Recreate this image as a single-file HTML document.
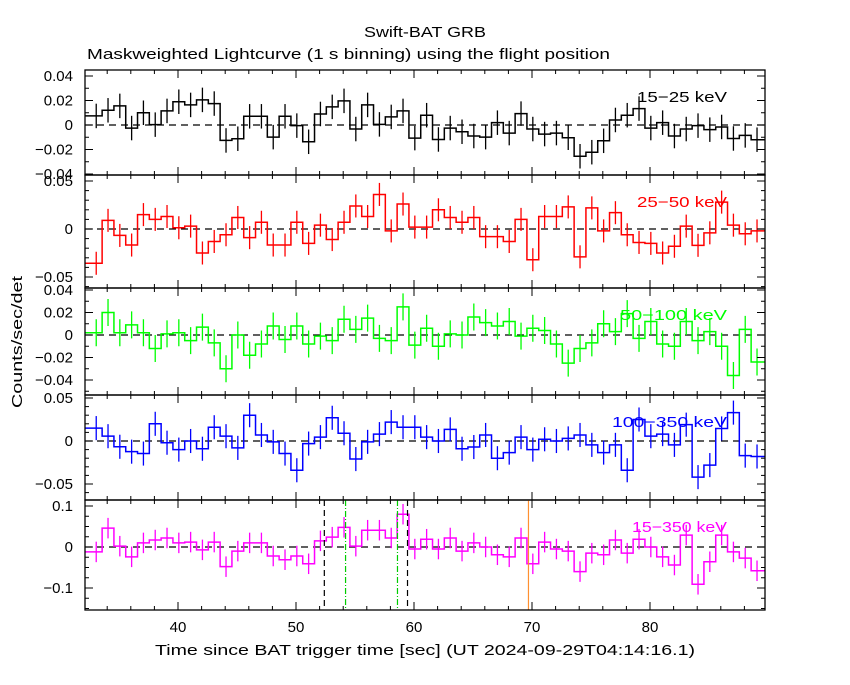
<!DOCTYPE html>
<html><head><meta charset="utf-8"><style>
html,body{margin:0;padding:0;background:#fff;}
svg text{font-family:"Liberation Sans",sans-serif;}
</style></head><body>
<svg id="chart" width="850" height="680" viewBox="0 0 850 680" xmlns="http://www.w3.org/2000/svg">
<rect width="850" height="680" fill="#fff"/>
<text x="364" y="37" font-size="15" textLength="122" lengthAdjust="spacingAndGlyphs">Swift-BAT GRB</text>
<text x="87" y="59" font-size="15" textLength="523" lengthAdjust="spacingAndGlyphs">Maskweighted Lightcurve (1 s binning) using the flight position</text>
<text x="0" y="0" transform="translate(22,342) rotate(-90)" text-anchor="middle" font-size="15" textLength="132" lengthAdjust="spacingAndGlyphs">Counts/sec/det</text>
<text x="155" y="655" font-size="15" textLength="540" lengthAdjust="spacingAndGlyphs">Time since BAT trigger time [sec] (UT 2024-09-29T04:14:16.1)</text>
<g id="plots"></g>
</svg>
<script>
const binStart = 33.07;
const xTicks = [40, 50, 60, 70, 80];
const p1Vals = [0.0074,0.012,0.0156,-0.0025,0.010,0.0003,0.0115,0.019,0.0164,0.0205,0.0175,-0.0126,-0.0112,0.0071,0.0071,-0.0099,0.0071,-0.0005,-0.0137,0.009,0.0148,0.0197,-0.0033,0.0164,0.0005,0.0066,0.0115,-0.0107,0.008,-0.0118,-0.0025,-0.0055,-0.009,-0.0099,0.0019,-0.0066,0.0093,-0.0033,-0.0074,-0.0066,-0.0104,-0.0255,-0.0222,-0.0129,0.0041,0.008,0.0134,-0.0025,0.0019,-0.009,-0.0033,-0.0005,-0.0038,-0.0016,-0.011,-0.0085,-0.012];
const p2Vals = [-0.0357,0.009,-0.0067,-0.0167,0.015,0.010,0.013,0.0013,0.003,-0.025,-0.013,-0.006,0.012,-0.009,0.007,-0.0167,-0.0167,0.007,-0.015,0.004,-0.011,0.007,0.024,0.013,0.036,-0.002,0.026,0.002,0.002,0.020,0.012,0.007,0.012,-0.008,-0.008,-0.013,0.010,-0.032,0.013,0.013,0.023,-0.029,0.022,-0.002,0.017,-0.006,-0.014,-0.015,-0.025,-0.018,0.003,-0.017,-0.004,0.028,0.004,-0.005,-0.002];
const p3Vals = [0.002,0.020,0.002,0.009,0.002,-0.012,0.001,0.002,-0.005,0.007,-0.007,-0.030,0,-0.018,-0.008,0.008,-0.004,0.008,-0.008,-0.001,-0.005,0.014,0.005,0.015,-0.003,-0.005,0.025,-0.009,0.006,-0.010,0.001,0,0.016,0.011,0.008,0.012,-0.001,0.006,0.004,-0.008,-0.025,-0.012,-0.007,0.010,0.003,0.019,-0.003,0.012,-0.008,-0.010,0.012,-0.005,0.003,-0.010,-0.036,0.005,-0.024];
const p4Vals = [0.015,0.0056,-0.0067,-0.0124,-0.0146,0.020,-0.002,-0.010,0,-0.009,0.016,0.0056,-0.008,0.030,0.007,-0.001,-0.0146,-0.034,-0.003,0.0045,0.027,0.009,-0.021,-0.001,0.008,0.022,0.016,0.016,0.0045,0,0.0135,-0.009,-0.007,0.007,-0.020,-0.0135,0.0045,-0.010,0.002,0,0.003,0.007,-0.0045,-0.0135,-0.0045,-0.034,0.025,0.0056,0.008,-0.0045,0.019,-0.042,-0.028,0.0146,0.033,-0.017,-0.018];
const p5Vals = [-0.012,0.046,0.002,-0.024,0.010,0.017,0.022,0.010,0.012,-0.007,0.012,-0.048,-0.010,0.010,0.010,-0.022,-0.031,-0.022,-0.041,0.015,0.024,0.048,0.002,0.041,0.041,0.022,0.080,-0.005,0.019,-0.005,0.022,-0.010,0.010,0,-0.019,-0.024,0.022,-0.041,0.012,-0.005,-0.010,-0.060,-0.015,-0.019,0.017,-0.015,0.019,0,-0.024,-0.044,0.029,-0.091,-0.036,0.029,-0.012,-0.027,-0.058];
const panelLabels = ["15\u221225 keV","25\u221250 keV","50\u2212100 keV","100\u2212350 keV","15\u2212350 keV"];
const panelErrs = [0.010, 0.012, 0.012, 0.014, 0.025];
const yTickLabelSets = [[0.04,0.02,0,-0.02,-0.04],[0.05,0,-0.05],[0.04,0.02,0,-0.02,-0.04],[0.05,0,-0.05],[0.1,0,-0.1]];
const blackDashTimes = [52.4, 59.45];
const greenDashTimes = [54.2, 58.6];
const orangeTimes = [69.7];

const NS="http://www.w3.org/2000/svg";
const X0=85, X1=765;
const xScale = t => 178 + (t-40)*11.8;
const tMin = 40 + (X0-178)/11.8, tMax = 40 + (X1-178)/11.8;
const panels = [
 {top:70,bot:175,zero:125,k:1225,vals:p1Vals,color:"#000",minor:0.01},
 {top:175,bot:288,zero:229,k:960,vals:p2Vals,color:"#ff0000",minor:0.01},
 {top:288,bot:395,zero:335,k:1125,vals:p3Vals,color:"#00ff00",minor:0.01},
 {top:395,bot:500,zero:441,k:860,vals:p4Vals,color:"#0000ff",minor:0.01},
 {top:500,bot:610,zero:547,k:410,vals:p5Vals,color:"#ff00ff",minor:0.025}
];
const labelWidths=[90,90,107,115,95];
const root=document.getElementById('plots');
function mk(tag,attrs,parent){const e=document.createElementNS(NS,tag);for(const a in attrs)e.setAttribute(a,attrs[a]);(parent||root).appendChild(e);return e;}
function fmt(v){if(v===0)return "0";let s=String(Math.abs(v));return (v<0?"\u2212":"")+s;}

panels.forEach((p,i)=>{
  const g=mk('g',{});
  
  
  const ys=v=>p.zero - v*p.k;
  const cid='clip'+i;
  const cp=mk('clipPath',{id:cid},g);
  mk('rect',{x:X0,y:p.top,width:X1-X0,height:p.bot-p.top},cp);
  const cg=mk('g',{'clip-path':'url(#'+cid+')'},g);
  const zl=mk('line',{x1:X0,x2:X1,y1:p.zero,y2:p.zero,stroke:"#000","stroke-dasharray":"7,5","stroke-width":1.3},cg);
  
  
  let d="";
  p.vals.forEach((v,j)=>{
    const t=binStart+j;
    const xa=xScale(t-0.5), xb=xScale(t+0.5), y=ys(v);
    d+=(j===0?"M"+(X0-5)+","+y:"L"+xa+","+y)+" L"+xb+","+y+" ";
  });
  const last=p.vals[p.vals.length-1];
  d+="L"+(X1+5)+","+ys(last);
  const st=mk('path',{d:d,fill:"none",stroke:p.color,"stroke-width":1.5},cg);
  
  
  p.vals.forEach((v,j)=>{
    const x=xScale(binStart+j);
    const e=mk('line',{x1:x,x2:x,y1:ys(v+panelErrs[i]),y2:ys(v-panelErrs[i]),stroke:p.color,"stroke-width":1.3},cg);
    
    
  });
  if(i===4){
    blackDashTimes.forEach(t=>{const l=mk('line',{x1:xScale(t),x2:xScale(t),y1:p.top,y2:p.bot,stroke:"#000","stroke-dasharray":"6,4","stroke-width":1.2},cg);
      
      });
    greenDashTimes.forEach(t=>{const l=mk('line',{x1:xScale(t),x2:xScale(t),y1:p.top,y2:p.bot,stroke:"#00cc00","stroke-dasharray":"6,2,1,2","stroke-width":1.2},cg);
      
      });
    orangeTimes.forEach(t=>{const l=mk('line',{x1:xScale(t),x2:xScale(t),y1:p.top,y2:p.bot,stroke:"#ff9030","stroke-width":1.2},cg);
      
      });
  }
  const fr=mk('rect',{x:X0,y:p.top,width:X1-X0,height:p.bot-p.top,fill:"none",stroke:"#000","stroke-width":1.3},g);
  
  
  for(let t=Math.ceil(tMin/2)*2;t<=tMax;t+=2){
    const x=xScale(t), L=(t%10===0)?8:4;
    mk('line',{x1:x,x2:x,y1:p.bot,y2:p.bot-L,stroke:"#000"},g);
    mk('line',{x1:x,x2:x,y1:p.top,y2:p.top+L,stroke:"#000"},g);
  }
  const vmin=(p.zero-p.bot)/p.k, vmax=(p.zero-p.top)/p.k;
  for(let n=Math.ceil(vmin/p.minor);n*p.minor<=vmax;n++){
    const v=n*p.minor,y=ys(v);
    const major=yTickLabelSets[i].some(q=>Math.abs(q-v)<1e-9);
    const L=major?8:4;
    mk('line',{x1:X0,x2:X0+L,y1:y,y2:y,stroke:"#000"},g);
    mk('line',{x1:X1,x2:X1-L,y1:y,y2:y,stroke:"#000"},g);
  }
  yTickLabelSets[i].forEach(v=>{
    const t=mk('text',{x:X0-12,y:ys(v)+5,"text-anchor":"end","font-size":15},g);
    
    
    t.textContent=fmt(v);
  });
  const lb=mk('text',{x:727-labelWidths[i],y:p.top+32,"font-size":15,fill:p.color,textLength:labelWidths[i],lengthAdjust:"spacingAndGlyphs"},g);
  
  
  lb.textContent=panelLabels[i];
});
xTicks.forEach(t=>{
  const tx=mk('text',{x:xScale(t),y:632,"text-anchor":"middle","font-size":15});
  
  
  tx.textContent=t;
});
</script>
</body></html>
